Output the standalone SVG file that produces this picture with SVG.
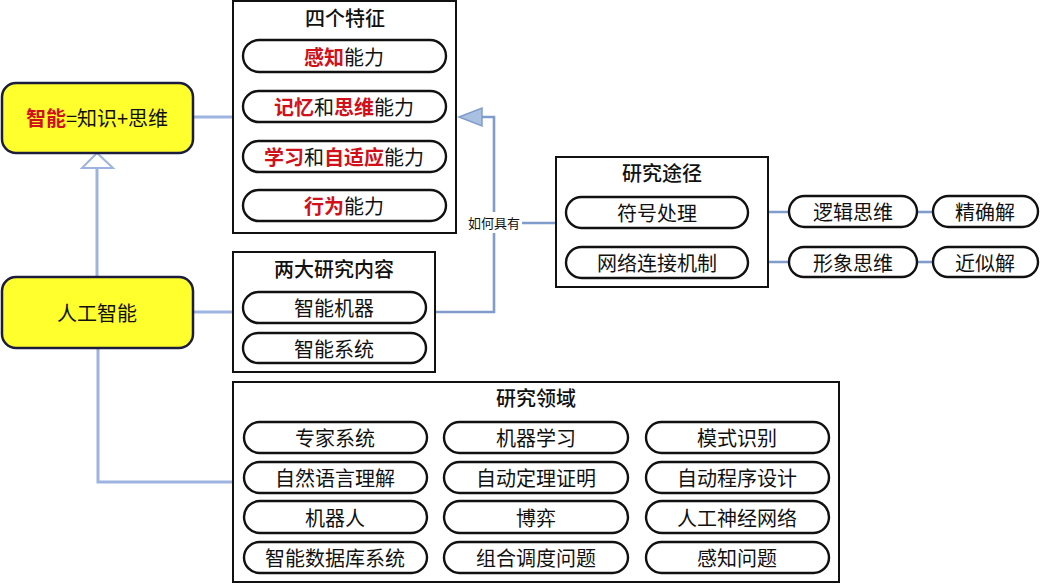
<svg xmlns="http://www.w3.org/2000/svg" width="1041" height="585" viewBox="0 0 1041 585">
<style>
text{font-family:"Noto Sans CJK SC","Noto Sans CJK JP",sans-serif;font-size:20px;fill:#111;text-anchor:middle;dominant-baseline:central}
.red{fill:#d0101a;font-weight:bold}
.title{font-size:20px;font-weight:500}
.frame{fill:#fff;stroke:#111;stroke-width:2}
.pill{fill:#fff;stroke:#111;stroke-width:2.4}
.main{fill:#ffff2e;stroke:#1c1c3c;stroke-width:2.5}
.conn{fill:none;stroke:#9db3e0;stroke-width:3}
.conn2{fill:none;stroke:#7f9ccb;stroke-width:2.6}
.small{font-size:13px}
</style>
<rect width="1041" height="585" fill="#fff"/>
<g id="connectors">
<line class="conn" x1="193" y1="117" x2="233" y2="117"/>
<line class="conn" x1="193" y1="312" x2="233" y2="312"/>
<line class="conn" x1="97" y1="276" x2="97" y2="168"/>
<polygon points="97,153 82,168 113,168" fill="#fff" stroke="#9db3e0" stroke-width="2"/>
<polyline class="conn" points="98,348 98,482 233,482"/>
<polyline class="conn2" points="435,312 494,312 494,233"/>
<polyline class="conn2" points="494,212 494,117 482,117"/>
<polygon points="459,117 482,108 482,126" fill="#aac0e0" stroke="#7f9ccb" stroke-width="1.5"/>
<line class="conn2" x1="522" y1="223" x2="556" y2="223"/>
<text class="small" x="494" y="222">如何具有</text>
<line class="conn2" x1="748" y1="212" x2="789" y2="212"/>
<line class="conn2" x1="917" y1="212" x2="933" y2="212"/>
<line class="conn2" x1="748" y1="262" x2="789" y2="262"/>
<line class="conn2" x1="917" y1="262" x2="933" y2="262"/>
</g>
<g id="node-intelligence">
<rect class="main" x="2" y="83" width="191" height="70" rx="14"/>
<text x="97" y="117"><tspan class="red">智能</tspan>=知识+思维</text>
</g>
<g id="node-ai">
<rect class="main" x="2" y="277" width="191" height="71" rx="14"/>
<text x="97" y="312">人工智能</text>
</g>
<g id="node-four-features">
<rect class="frame" x="233" y="1" width="223" height="232"/>
<text class="title" x="345" y="17">四个特征</text>
<rect class="pill" x="243" y="40" width="203" height="32" rx="16"/>
<text x="344" y="56"><tspan class="red">感知</tspan>能力</text>
<rect class="pill" x="243" y="91" width="203" height="31" rx="15.5"/>
<text x="344" y="106"><tspan class="red">记忆</tspan>和<tspan class="red">思维</tspan>能力</text>
<rect class="pill" x="243" y="141" width="203" height="31" rx="15.5"/>
<text x="344" y="156"><tspan class="red">学习</tspan>和<tspan class="red">自适应</tspan>能力</text>
<rect class="pill" x="243" y="190" width="203" height="31" rx="15.5"/>
<text x="344" y="205"><tspan class="red">行为</tspan>能力</text>
</g>
<g id="node-two-contents">
<rect class="frame" x="233" y="252" width="202" height="120"/>
<text class="title" x="334" y="268">两大研究内容</text>
<rect class="pill" x="243" y="292" width="183" height="31" rx="15.5"/>
<text x="334" y="307">智能机器</text>
<rect class="pill" x="243" y="333" width="183" height="30" rx="15"/>
<text x="334" y="348">智能系统</text>
</g>
<g id="node-approaches">
<rect class="frame" x="556" y="157" width="212" height="130"/>
<text class="title" x="662" y="172">研究途径</text>
<rect class="pill" x="566" y="197" width="182" height="31" rx="15.5"/>
<text x="657" y="212">符号处理</text>
<rect class="pill" x="566" y="247" width="182" height="31" rx="15.5"/>
<text x="657" y="262">网络连接机制</text>
</g>
<g id="node-logic">
<rect class="pill" x="789" y="196" width="128" height="31" rx="15.5"/>
<text x="853" y="211">逻辑思维</text>
</g>
<g id="node-exact">
<rect class="pill" x="933" y="196" width="105" height="31" rx="15.5"/>
<text x="985" y="211">精确解</text>
</g>
<g id="node-image">
<rect class="pill" x="789" y="247" width="128" height="30" rx="15"/>
<text x="853" y="262">形象思维</text>
</g>
<g id="node-approx">
<rect class="pill" x="933" y="247" width="105" height="30" rx="15"/>
<text x="985" y="262">近似解</text>
</g>
<g id="node-fields">
<rect class="frame" x="233" y="382" width="606" height="200"/>
<text class="title" x="536" y="397">研究领域</text>
<rect class="pill" x="244" y="422" width="183" height="31" rx="15.5"/>
<text x="335" y="437">专家系统</text>
<rect class="pill" x="444" y="422" width="184" height="31" rx="15.5"/>
<text x="536" y="437">机器学习</text>
<rect class="pill" x="646" y="422" width="183" height="31" rx="15.5"/>
<text x="737" y="437">模式识别</text>
<rect class="pill" x="244" y="462" width="183" height="31" rx="15.5"/>
<text x="335" y="477">自然语言理解</text>
<rect class="pill" x="444" y="462" width="184" height="31" rx="15.5"/>
<text x="536" y="477">自动定理证明</text>
<rect class="pill" x="646" y="462" width="183" height="31" rx="15.5"/>
<text x="737" y="477">自动程序设计</text>
<rect class="pill" x="244" y="501" width="183" height="32" rx="16"/>
<text x="335" y="517">机器人</text>
<rect class="pill" x="444" y="501" width="184" height="32" rx="16"/>
<text x="536" y="517">博弈</text>
<rect class="pill" x="646" y="501" width="183" height="32" rx="16"/>
<text x="737" y="517">人工神经网络</text>
<rect class="pill" x="244" y="542" width="183" height="31" rx="15.5"/>
<text x="335" y="557">智能数据库系统</text>
<rect class="pill" x="444" y="542" width="184" height="31" rx="15.5"/>
<text x="536" y="557">组合调度问题</text>
<rect class="pill" x="646" y="542" width="183" height="31" rx="15.5"/>
<text x="737" y="557">感知问题</text>
</g>
</svg>
